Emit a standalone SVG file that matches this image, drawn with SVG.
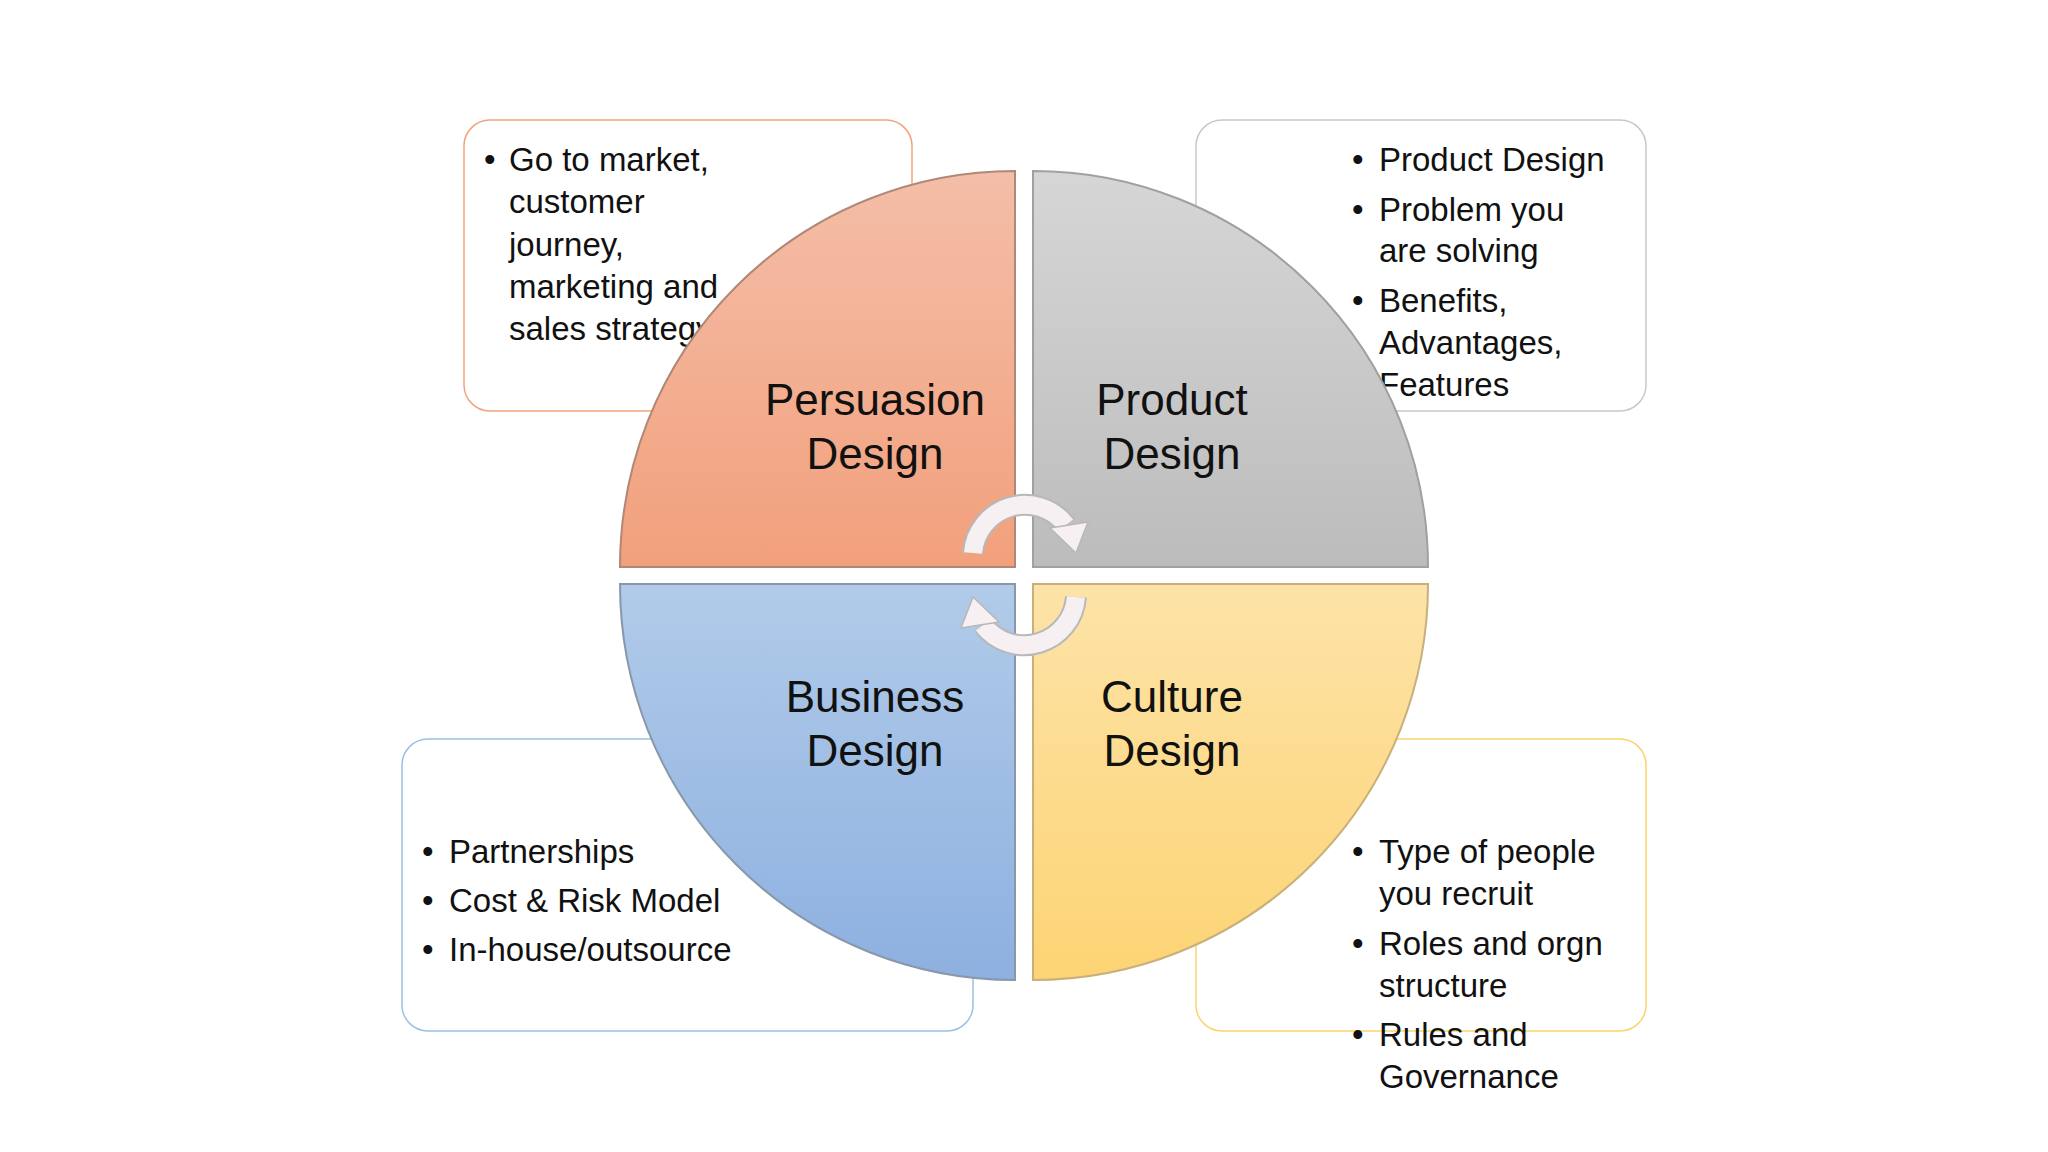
<svg xmlns="http://www.w3.org/2000/svg" width="2048" height="1152" viewBox="0 0 2048 1152">
<defs>
<linearGradient id="gO" x1="0" y1="0" x2="0" y2="1"><stop offset="0" stop-color="#f4bea8"/><stop offset="1" stop-color="#f2a07c"/></linearGradient>
<linearGradient id="gG" x1="0" y1="0" x2="0" y2="1"><stop offset="0" stop-color="#d6d6d6"/><stop offset="1" stop-color="#bcbcbc"/></linearGradient>
<linearGradient id="gB" x1="0" y1="0" x2="0" y2="1"><stop offset="0" stop-color="#b1cbe9"/><stop offset="1" stop-color="#8db0e0"/></linearGradient>
<linearGradient id="gY" x1="0" y1="0" x2="0" y2="1"><stop offset="0" stop-color="#fde3a8"/><stop offset="1" stop-color="#fdd474"/></linearGradient>
</defs>
<style>
.box{fill:#fff;stroke-width:1.5}
.t{font-family:"Liberation Sans",Arial,sans-serif;font-size:33px;fill:#111}
.h{font-family:"Liberation Sans",Arial,sans-serif;font-size:44px;fill:#111;text-anchor:middle}
.q{stroke-width:2}
.arc{fill:none;stroke:#b8b8b8;stroke-width:22}
.arc2{fill:none;stroke:#f6f0f2;stroke-width:18}
</style>
<rect width="2048" height="1152" fill="#fff"/>
<g id="box-persuasion">
<rect class="box" x="464" y="120" width="448" height="291" rx="26" stroke="#f0a47c"/>
<text class="t"><tspan x="484" y="171">•</tspan><tspan x="509" y="171">Go to market,</tspan><tspan x="509" y="213">customer</tspan><tspan x="509" y="256">journey,</tspan><tspan x="509" y="298">marketing and</tspan><tspan x="509" y="340">sales strategy</tspan></text>
</g>
<g id="box-product">
<rect class="box" x="1196" y="120" width="450" height="291" rx="26" stroke="#c8c8c8"/>
<text class="t"><tspan x="1352" y="171">•</tspan><tspan x="1379" y="171">Product Design</tspan><tspan x="1352" y="221">•</tspan><tspan x="1379" y="221">Problem you</tspan><tspan x="1379" y="262">are solving</tspan><tspan x="1352" y="312">•</tspan><tspan x="1379" y="312">Benefits,</tspan><tspan x="1379" y="354">Advantages,</tspan><tspan x="1379" y="396">Features</tspan></text>
</g>
<g id="box-business">
<rect class="box" x="402" y="739" width="571" height="292" rx="26" stroke="#9dbfe3"/>
<text class="t"><tspan x="422" y="863">•</tspan><tspan x="449" y="863">Partnerships</tspan><tspan x="422" y="912">•</tspan><tspan x="449" y="912">Cost &amp; Risk Model</tspan><tspan x="422" y="961">•</tspan><tspan x="449" y="961">In-house/outsource</tspan></text>
</g>
<g id="box-culture">
<rect class="box" x="1196" y="739" width="450" height="292" rx="26" stroke="#fad46a"/>
</g>
<g id="pie">
<path class="q" d="M1015 171 A395 396 0 0 0 620 567 L1015 567 Z" fill="url(#gO)" stroke="#b08878"/>
<path class="q" d="M1033 171 A395 396 0 0 1 1428 567 L1033 567 Z" fill="url(#gG)" stroke="#a0a0a0"/>
<path class="q" d="M620 584 A395 396 0 0 0 1015 980 L1015 584 Z" fill="url(#gB)" stroke="#8898aa"/>
<path class="q" d="M1428 584 A395 396 0 0 1 1033 980 L1033 584 Z" fill="url(#gY)" stroke="#c8b07a"/>
</g>
<g id="labels">
<text class="h"><tspan x="875" y="415">Persuasion</tspan><tspan x="875" y="469">Design</tspan></text>
<text class="h"><tspan x="1172" y="415">Product</tspan><tspan x="1172" y="469">Design</tspan></text>
<text class="h"><tspan x="875" y="712">Business</tspan><tspan x="875" y="766">Design</tspan></text>
<text class="h"><tspan x="1172" y="712">Culture</tspan><tspan x="1172" y="766">Design</tspan></text>
</g>
<g id="box-culture-text">
<text class="t"><tspan x="1352" y="863">•</tspan><tspan x="1379" y="863">Type of people</tspan><tspan x="1379" y="905">you recruit</tspan><tspan x="1352" y="955">•</tspan><tspan x="1379" y="955">Roles and orgn</tspan><tspan x="1379" y="997">structure</tspan><tspan x="1352" y="1046">•</tspan><tspan x="1379" y="1046">Rules and</tspan><tspan x="1379" y="1088">Governance</tspan></text>
</g>
<g id="connectors">
<path class="arc" d="M973 553 A52 52 0 0 1 1066 525"/>
<path class="arc2" d="M973 553 A52 52 0 0 1 1066 525"/>
<polygon points="1050,528 1088,522 1076,553" fill="#f6f0f2" stroke="#b8b8b8" stroke-width="1.5"/>
<path class="arc" d="M1076 597 A52 52 0 0 1 983 625"/>
<path class="arc2" d="M1076 597 A52 52 0 0 1 983 625"/>
<polygon points="999,622 961,628 973,597" fill="#f6f0f2" stroke="#b8b8b8" stroke-width="1.5"/>
</g>
</svg>
